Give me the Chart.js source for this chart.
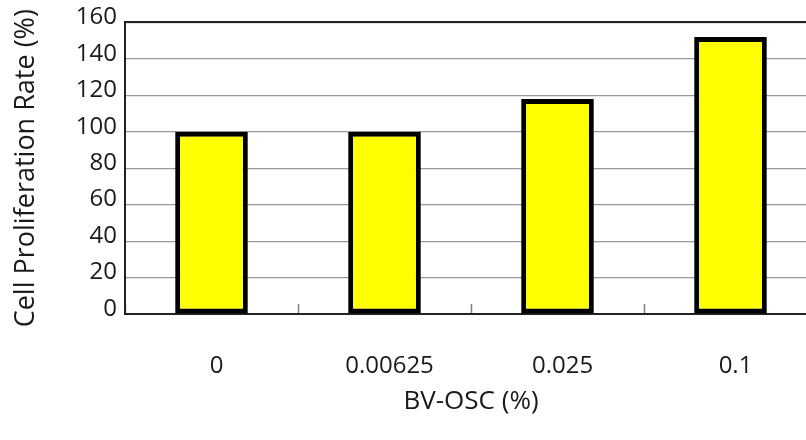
<!DOCTYPE html>
<html>
<head>
<meta charset="utf-8">
<script src="https://cdn.jsdelivr.net/npm/chart.js@4/dist/chart.umd.min.js"></script>
<style>
  html, body { margin: 0; padding: 0; background: #ffffff; overflow: hidden; }
  /* the plot frame runs a little past the right edge of the window */
  #wrap { width: 817px; height: 440px; position: relative; }
</style>
</head>
<body>
<div id="wrap"><canvas id="chart"></canvas></div>
<script>
// BV-OSC concentration (%) on the x axis
const categories = ['0', '0.00625', '0.025', '0.1'];
// Cell proliferation rate (%) per concentration
const proliferation = [100, 100, 118, 152];
// Value axis range
const yMin = 0;
const yMax = 160;
const yStep = 20;

const FONT = "'Open Sans', 'DejaVu Sans', sans-serif";
const TEXT = '#1a1a1a';

new Chart(document.getElementById('chart'), {
  type: 'bar',
  data: {
    labels: categories,
    datasets: [{
      data: proliferation,
      backgroundColor: '#ffff00',
      borderColor: '#000000',
      borderWidth: 5,
      borderSkipped: false,
      barPercentage: 0.42,
      categoryPercentage: 1.0
    }]
  },
  options: {
    responsive: true,
    maintainAspectRatio: false,
    animation: false,
    events: [],
    layout: { padding: { top: 21, right: 0, bottom: 0, left: 0 } },
    plugins: {
      legend: { display: false },
      tooltip: { enabled: false },
      title: { display: false }
    },
    scales: {
      x: {
        type: 'category',
        position: 'bottom',
        offset: true,
        grid: {
          offset: true,
          drawOnChartArea: false,
          drawTicks: true,
          tickLength: -10,
          tickColor: '#808080',
          tickWidth: 1.5
        },
        border: { display: true, color: '#222222', width: 2 },
        ticks: {
          color: TEXT,
          font: { family: FONT, size: 24, weight: 400 },
          padding: 48,
          labelOffset: 5,
          maxRotation: 0,
          autoSkip: false
        },
        title: {
          display: true,
          text: 'BV-OSC (%)',
          color: TEXT,
          font: { family: FONT, size: 26, weight: 400 },
          padding: { top: 0, bottom: 23 }
        },
        afterFit: (scale) => { scale.height = 126; }
      },
      xTop: {
        type: 'linear',
        position: 'top',
        min: 0,
        max: 1,
        grid: { display: false, drawTicks: false },
        border: { display: true, color: '#222222', width: 2 },
        ticks: { display: false }
      },
      y: {
        type: 'linear',
        position: 'left',
        min: yMin,
        max: yMax,
        grid: {
          color: '#999999',
          lineWidth: 1.2,
          drawTicks: false
        },
        border: { display: true, color: '#222222', width: 2 },
        ticks: {
          stepSize: yStep,
          color: TEXT,
          font: { family: FONT, size: 24, weight: 400 },
          padding: 8,
          labelOffset: -5
        },
        title: {
          display: true,
          text: 'Cell Proliferation Rate (%)',
          color: TEXT,
          font: { family: FONT, size: 27, weight: 400 },
          padding: { top: 10, bottom: 0 }
        },
        afterFit: (scale) => { scale.width = 125; }
      }
    }
  }
});
</script>
</body>
</html>
